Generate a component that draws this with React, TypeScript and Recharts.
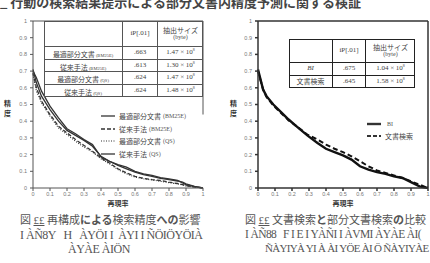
import type { ReactNode } from 'react'
import { LineChart, Line, XAxis, YAxis, ReferenceLine } from 'recharts'

const TICKS = [0, 0.1, 0.2, 0.3, 0.4, 0.5, 0.6, 0.7, 0.8, 0.9, 1]

// 図 (左): 再構成による検索精度への影響
const recallL = [0, 0.02, 0.05, 0.1, 0.15, 0.2, 0.25, 0.3, 0.35, 0.4, 0.45, 0.5, 0.55, 0.6, 0.65, 0.7, 0.75, 0.8, 0.85, 0.88, 0.9, 0.95, 1]
const bestBM25E = [0.71, 0.63, 0.55, 0.47, 0.4, 0.345, 0.315, 0.285, 0.25, 0.19, 0.16, 0.135, 0.115, 0.095, 0.08, 0.07, 0.058, 0.05, 0.042, 0.035, 0.025, 0.01, 0]
const baseBM25E = [0.69, 0.6, 0.52, 0.44, 0.37, 0.33, 0.29, 0.255, 0.22, 0.18, 0.15, 0.115, 0.09, 0.07, 0.058, 0.05, 0.045, 0.035, 0.027, 0.02, 0.015, 0.006, 0]
const bestQS = [0.68, 0.58, 0.51, 0.43, 0.36, 0.32, 0.28, 0.245, 0.215, 0.175, 0.145, 0.11, 0.085, 0.065, 0.055, 0.048, 0.04, 0.032, 0.025, 0.018, 0.012, 0.005, 0]
const baseQS = [0.7, 0.66, 0.58, 0.49, 0.42, 0.355, 0.325, 0.29, 0.26, 0.185, 0.16, 0.14, 0.125, 0.1, 0.085, 0.075, 0.062, 0.055, 0.045, 0.03, 0.02, 0.008, 0]

const tableLNames = ['最適部分文書', '従来手法', '最適部分文書', '従来手法']
const tableLTags = ['(BM25E)', '(BM25E)', '(QS)', '(QS)']
const tableLiP = ['.663', '.613', '.624', '.624']
const tableLSize = ['1.47', '1.30', '1.47', '1.48']

// 図 (右): 文書検索と部分文書検索の比較
const recallR = [0, 0.03, 0.05, 0.09, 0.14, 0.18, 0.22, 0.29, 0.35, 0.4, 0.45, 0.5, 0.55, 0.6, 0.65, 0.7, 0.75, 0.8, 0.85, 0.9, 0.95, 1]
const biPrec = [0.71, 0.59, 0.55, 0.5, 0.45, 0.41, 0.375, 0.315, 0.27, 0.235, 0.215, 0.195, 0.17, 0.13, 0.11, 0.095, 0.085, 0.07, 0.06, 0.035, 0.01, 0]
const docPrec = [0.7, 0.59, 0.545, 0.495, 0.445, 0.405, 0.375, 0.32, 0.29, 0.26, 0.235, 0.215, 0.19, 0.16, 0.13, 0.105, 0.09, 0.075, 0.06, 0.04, 0.02, 0]

const tableRNames = ['BI', '文書検索']
const tableRiP = ['.675', '.645']
const tableRSize = ['1.04', '1.58']

const JP = '"Noto Sans CJK JP", sans-serif'
const SERIF = '"Liberation Serif", "DejaVu Serif", serif'
const INK = '#333'

const fmt = (v: number) => String(v)
const tickStyle = { fontSize: 5.5, fill: '#777', fontFamily: '"Liberation Sans", sans-serif' }

const dataL = recallL.map((r, i) => ({
  r,
  bestBM25E: bestBM25E[i],
  baseBM25E: baseBM25E[i],
  bestQS: bestQS[i],
  baseQS: baseQS[i],
}))
const dataR = recallR.map((r, i) => ({ r, bi: biPrec[i], doc: docPrec[i] }))

function SizeCell({ v }: { v: string }) {
  return (
    <span style={{ fontFamily: SERIF, fontSize: 7 }}>
      {v} × 10<span style={{ fontSize: 4, position: 'relative', top: -3 }}>8</span>
    </span>
  )
}

// simple grid table drawn with absolutely placed cells
function Grid({ left, top, cols, rows, border, cells }: { left: number; top: number; cols: number[]; rows: number[]; border: string; cells: ReactNode[][] }) {
  const xs = cols.reduce<number[]>((a, w) => [...a, a[a.length - 1] + w], [0])
  const ys = rows.reduce<number[]>((a, h) => [...a, a[a.length - 1] + h], [0])
  return (
    <div style={{ position: 'absolute', left, top, width: xs[xs.length - 1], height: ys[ys.length - 1], background: '#fff', border, boxSizing: 'border-box', color: '#444' }}>
      {cells.map((row, ri) =>
        row.map((c, ci) => (
          <div
            key={ri + '-' + ci}
            style={{
              position: 'absolute',
              left: xs[ci] - 1,
              top: ys[ri] - 1,
              width: cols[ci],
              height: rows[ri],
              borderRight: ci < cols.length - 1 ? border : 'none',
              borderBottom: ri < rows.length - 1 ? border : 'none',
              boxSizing: 'border-box',
              display: 'flex',
              flexDirection: 'column',
              alignItems: 'center',
              justifyContent: 'center',
              whiteSpace: 'nowrap',
              lineHeight: 1.05,
              overflow: 'hidden',
            }}
          >
            {c}
          </div>
        ))
      )}
    </div>
  )
}

const header = [
  null,
  <span style={{ fontFamily: SERIF, fontSize: 7 }}>iP[.01]</span>,
  <>
    <span style={{ fontFamily: JP, fontSize: 7 }}>抽出サイズ</span>
    <span style={{ fontFamily: SERIF, fontSize: 6 }}>(byte)</span>
  </>,
]

function LegendRow({ y, x, dash, width, label, tag }: { y: number; x: number; dash?: string; width: number; label: string; tag?: string }) {
  return (
    <div style={{ position: 'absolute', left: x, top: y - 5, height: 10, display: 'flex', alignItems: 'center', whiteSpace: 'nowrap' }}>
      <svg width={14} height={6} style={{ marginRight: 4 }}>
        <line x1={0} y1={3} x2={14} y2={3} stroke={INK} strokeWidth={width} strokeDasharray={dash} />
      </svg>
      {label && <span style={{ fontFamily: JP, fontSize: 7, color: '#444' }}>{label}</span>}
      {tag && <span style={{ fontFamily: SERIF, fontSize: 6, color: '#555', marginLeft: 2 }}>{tag}</span>}
    </div>
  )
}

function VLabel({ x, y }: { x: number; y: number }) {
  return (
    <div style={{ position: 'absolute', left: x, top: y, width: 7, fontFamily: JP, fontSize: 7, fontWeight: 700, lineHeight: '10px', color: '#333' }}>
      <div>精</div>
      <div>度</div>
    </div>
  )
}

function XLabel({ cx, y }: { cx: number; y: number }) {
  return (
    <div style={{ position: 'absolute', left: cx - 20, top: y, width: 40, textAlign: 'center', fontFamily: JP, fontSize: 7, fontWeight: 700, color: '#333' }}>
      再現率
    </div>
  )
}

export default function App() {
  const borderL = '1px solid #555'
  const borderR = '1.5px solid #222'
  const cellsL = [
    header,
    ...tableLNames.map((n, i) => [
      <span>
        <span style={{ fontFamily: JP, fontSize: 7 }}>{n}</span>
        <span style={{ fontFamily: SERIF, fontSize: 4.5, marginLeft: 1 }}>{tableLTags[i]}</span>
      </span>,
      <span style={{ fontFamily: SERIF, fontSize: 7 }}>{tableLiP[i]}</span>,
      <SizeCell v={tableLSize[i]} />,
    ]),
  ]
  const cellsR = [
    header,
    ...tableRNames.map((n, i) => [
      <span style={{ fontSize: 7, fontFamily: i === 0 ? SERIF : JP, fontStyle: i === 0 ? 'italic' : 'normal' }}>{n}</span>,
      <span style={{ fontFamily: SERIF, fontSize: 7 }}>{tableRiP[i]}</span>,
      <SizeCell v={tableRSize[i]} />,
    ]),
  ]
  return (
    <div style={{ position: 'fixed', left: 0, top: 0, width: 430, height: 263, background: '#fff', overflow: 'hidden' }}>
      {/* cut-off running text at the top */}
      <div style={{ position: 'absolute', left: 0, top: -8, fontFamily: JP, fontSize: 13, fontWeight: 700, color: '#444', whiteSpace: 'nowrap' }}>
        _ 行動の検索結果提示による部分文書内精度予測に関する検証
      </div>

      {/* left chart */}
      <div style={{ position: 'absolute', left: 0, top: 0 }}>
        <LineChart width={215} height={210} data={dataL} margin={{ top: 21, right: 12, left: 0, bottom: 0 }}>
          <XAxis dataKey="r" type="number" domain={[0, 1]} ticks={TICKS} tickFormatter={fmt} tick={tickStyle} tickSize={3} tickMargin={1} height={22} stroke="#555" interval={0} />
          <YAxis type="number" domain={[0, 1]} ticks={TICKS} tickFormatter={fmt} tick={tickStyle} tickSize={3} tickMargin={3} width={33} stroke="#555" interval={0} />
          <ReferenceLine y={1} stroke="#555" />
          <ReferenceLine segment={[{ x: 1, y: 1 }, { x: 1, y: 0.44 }]} stroke="#555" />
          <Line dataKey="bestQS" stroke={INK} strokeWidth={1.1} strokeDasharray="1 1.5" dot={false} isAnimationActive={false} />
          <Line dataKey="baseBM25E" stroke={INK} strokeWidth={1.3} strokeDasharray="4 2" dot={false} isAnimationActive={false} />
          <Line dataKey="bestBM25E" stroke={INK} strokeWidth={1.3} dot={false} isAnimationActive={false} />
          <Line dataKey="baseQS" stroke={INK} strokeWidth={1.3} dot={false} isAnimationActive={false} />
        </LineChart>
      </div>
      <Grid left={44} top={21} cols={[79, 35, 45]} rows={[26, 12.5, 12.5, 12.5, 12.5]} border={borderL} cells={cellsL} />
      <LegendRow x={101} y={116} width={1.3} label="最適部分文書" tag="(BM25E)" />
      <LegendRow x={101} y={129} width={1.3} dash="4 2" label="従来手法" tag="(BM25E)" />
      <LegendRow x={101} y={141} width={1.1} dash="1 1.5" label="最適部分文書" tag="(QS)" />
      <LegendRow x={101} y={154} width={1.3} label="従来手法" tag="(QS)" />
      <VLabel x={4} y={98} />
      <XLabel cx={118} y={198} />

      {/* right chart */}
      <div style={{ position: 'absolute', left: 215, top: 0 }}>
        <LineChart width={215} height={210} data={dataR} margin={{ top: 21, right: 2, left: 0, bottom: 0 }}>
          <XAxis dataKey="r" type="number" domain={[0, 1]} ticks={TICKS} tickFormatter={fmt} tick={tickStyle} tickSize={3} tickMargin={1} height={22} stroke="#333" strokeWidth={1.5} interval={0} />
          <YAxis type="number" domain={[0, 1]} ticks={TICKS} tickFormatter={fmt} tick={tickStyle} tickSize={3} tickMargin={3} width={43} stroke="#333" strokeWidth={1.5} interval={0} />
          <ReferenceLine y={1} stroke="#333" strokeWidth={1.5} />
          <ReferenceLine x={1} stroke="#333" strokeWidth={1.5} />
          <Line dataKey="doc" stroke="#111" strokeWidth={2} strokeDasharray="5 3" dot={false} isAnimationActive={false} />
          <Line dataKey="bi" stroke="#111" strokeWidth={2.4} dot={false} isAnimationActive={false} />
        </LineChart>
      </div>
      <Grid left={289} top={39} cols={[44, 33, 49]} rows={[24, 12.5, 12.5]} border={borderR} cells={cellsR} />
      <LegendRow x={367} y={124} width={2.4} label="" tag="BI" />
      <LegendRow x={367} y={136} width={2} dash="4 2" label="文書検索" />
      <VLabel x={230} y={98} />
      <XLabel cx={343} y={198} />

      {/* captions */}
      <div style={{ position: 'absolute', left: 20, top: 211, fontFamily: JP, fontSize: 11, color: '#555', whiteSpace: 'nowrap' }}>
        図 <span style={{ fontFamily: SERIF, textDecoration: 'underline' }}>££</span> 再構成<b>による</b>検索精度<b>への</b>影響
      </div>
      <div style={{ position: 'absolute', left: 20, top: 228, fontFamily: SERIF, fontSize: 12, color: '#555', whiteSpace: 'nowrap', letterSpacing: -0.5 }}>
        I ÀÑ8Y&nbsp;&nbsp; H&nbsp;&nbsp; ÀYÖI I&nbsp; ÀYI I ÑÖIÖYÖIÀ
      </div>
      <div style={{ position: 'absolute', left: 68, top: 242, fontFamily: SERIF, fontSize: 12, color: '#555', whiteSpace: 'nowrap', letterSpacing: -0.5 }}>
        ÀYÀE ÀIÖN
      </div>
      <div style={{ position: 'absolute', left: 245, top: 211, fontFamily: JP, fontSize: 11, color: '#555', whiteSpace: 'nowrap' }}>
        図 <span style={{ fontFamily: SERIF, textDecoration: 'underline' }}>££</span> 文書検索<b>と</b>部分文書検索<b>の</b>比較
      </div>
      <div style={{ position: 'absolute', left: 245, top: 228, fontFamily: SERIF, fontSize: 11.5, color: '#555', whiteSpace: 'nowrap', letterSpacing: -0.6 }}>
        I ÀÑ88&nbsp;&nbsp; F I E I YÀÑI I ÀVMI ÀYÀE ÀI(
      </div>
      <div style={{ position: 'absolute', left: 265, top: 242, fontFamily: SERIF, fontSize: 11, color: '#555', whiteSpace: 'nowrap', letterSpacing: -0.7 }}>
        ÑÀYIYÀ YI À ÀI YÖE ÀI Ö ÑÀYIYÀE
      </div>
    </div>
  )
}
